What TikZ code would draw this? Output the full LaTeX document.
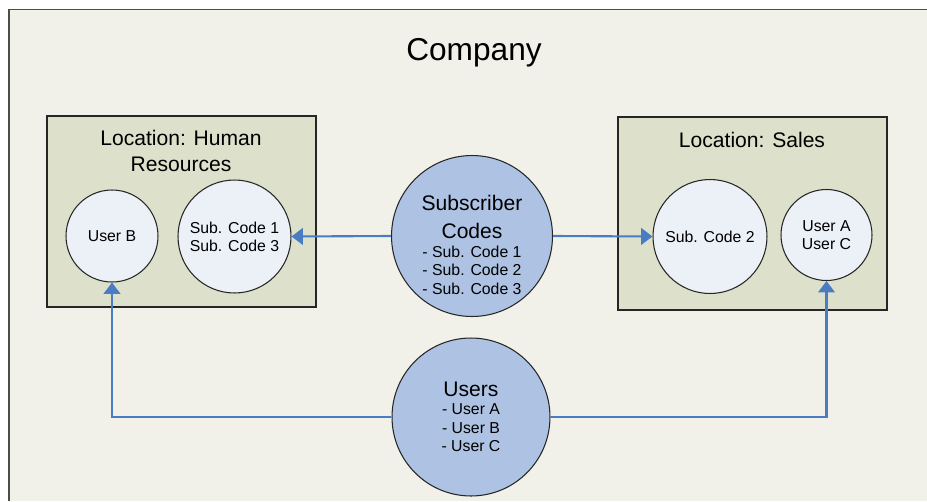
\documentclass[tikz,border=0pt]{standalone}
\usepackage{fontspec}
\setmainfont{Liberation Sans}
\usetikzlibrary{positioning,arrows.meta}

\definecolor{compfill}{HTML}{F1F1EA}
\definecolor{locfill}{HTML}{DDE0CA}
\definecolor{circfill}{HTML}{ECF0F7}
\definecolor{bigfill}{HTML}{AEC3E3}
\definecolor{linkblue}{HTML}{4A7CC4}

\tikzset{
  locbox/.style={draw=black!85,fill=locfill,line width=0.6pt},
  loctitle/.style={align=center,font=\fontsize{12}{14.8}\selectfont},
  smallcirc/.style={circle,draw=black!85,fill=circfill,line width=0.6pt,inner sep=0pt,align=center,font=\fontsize{9}{10.3}\selectfont},
  bigcirc/.style={circle,draw=black!85,fill=bigfill,line width=0.6pt,inner sep=0pt,align=center,font=\fontsize{9}{10.5}\selectfont},
  link/.style={draw=linkblue,line width=1.2pt,-{Triangle[length=6.5pt,width=9.5pt]}},
}

\begin{document}
\begin{tikzpicture}[x=0.02cm,y=-0.02cm]
\useasboundingbox (0,0) rectangle (927,501);
\fill[white] (0,0) rectangle (927,501);
\fill[compfill] (9,9.5) rectangle (927,501);
\draw[gray!60!black,line width=1pt] (927,9.5) -- (9,9.5) -- (9,501);
\node[font=\fontsize{18}{22}\selectfont] (company) at (474,53) {Company};

\draw[locbox] (47,116) rectangle (316,307);
\node[loctitle] (hrtitle) at (181,151) {Location: Human\\Resources};
\node[smallcirc,minimum size=1.84cm] (userb) at (112,236) {User B};
\node[smallcirc,minimum size=2.26cm] (hrcodes) at (234.5,236.5) {Sub. Code 1\\Sub. Code 3};

\draw[locbox] (618,117) rectangle (887,310);
\node[loctitle] (salestitle) at (752,140) {Location: Sales};
\node[smallcirc,minimum size=2.28cm] (salescode) at (710,236.5) {Sub. Code 2};
\node[smallcirc,minimum size=1.82cm] (userac) at (826.5,235) {User A\\User C};

\node[bigcirc,minimum size=3.22cm] (subs) at (472,236)
  {\rule{0pt}{19pt}{\fontsize{12}{14}\selectfont Subscriber}\\[5pt]{\fontsize{12}{14}\selectfont Codes}\\[0.5pt]- Sub. Code 1\\- Sub. Code 2\\- Sub. Code 3};
\node[bigcirc,minimum size=3.16cm] (users) at (471,417)
  {{\fontsize{12}{14}\selectfont Users}\\- User A\\- User B\\- User C};

\draw[link] (subs.west) -- (hrcodes.east);
\draw[link] (subs.east) -- (salescode.west);
\draw[link] (users.west) -| (userb.south);
\draw[link] (users.east) -| (userac.south);
\end{tikzpicture}
\end{document}
